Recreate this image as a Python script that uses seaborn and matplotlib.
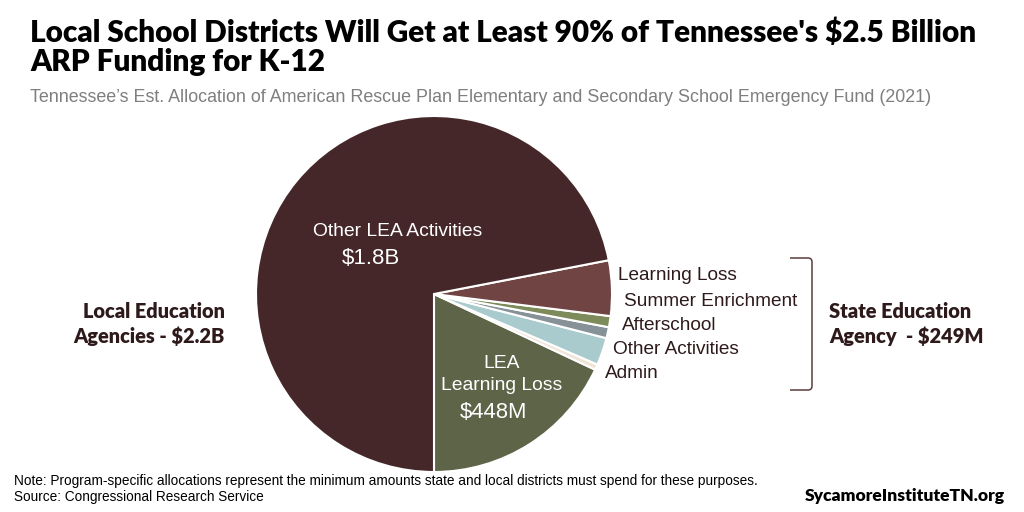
import matplotlib
matplotlib.use("Agg")
import matplotlib.pyplot as plt
import seaborn as sns
from matplotlib.path import Path
from matplotlib.patches import PathPatch

sns.set_theme(style="white")
plt.rcParams['font.family'] = ['Liberation Sans', 'DejaVu Sans']

# Data (millions of dollars), counterclockwise from bottom
categories = ["LEA Learning Loss", "Admin", "Other Activities", "Afterschool",
              "Summer Enrichment", "Learning Loss", "Other LEA Activities"]
values = [448, 12.5, 62, 25, 25, 125, 1790]
colors = ["#5E6448", "#F0E4D6", "#AACBCD", "#879298", "#7D8A5A", "#6F4442", "#45272A"]

W, H = 1024, 512
fig = plt.figure(figsize=(W / 100, H / 100), dpi=100)
fig.patch.set_facecolor("white")

cx, cy, r = 434, 294, 178
ax = fig.add_axes([(cx - r) / W, (H - cy - r) / H, 2 * r / W, 2 * r / H])
ax.pie(values, colors=colors, startangle=-90, counterclock=True, radius=1,
       wedgeprops=dict(edgecolor="white", linewidth=1.5))
ax.set_xlim(-1, 1)
ax.set_ylim(-1, 1)
ax.set_aspect("equal")
ax.axis("off")

def px(x, y):
    return x / W, 1 - y / H

dark = "#2E1A1B"
bold_fam = ["Lato", "DejaVu Sans"]

# Title
fig.text(*px(30, 33), "Local School Districts Will Get at Least 90% of Tennessee's $2.5 Billion",
         fontsize=21.4, fontweight="heavy", family=bold_fam, color="black", va="center")
fig.text(*px(30, 62), "ARP Funding for K-12",
         fontsize=21.4, fontweight="heavy", family=bold_fam, color="black", va="center")
fig.text(*px(30, 97), "Tennessee\u2019s Est. Allocation of American Rescue Plan Elementary and Secondary School Emergency Fund (2021)",
         fontsize=12.9, color="#7F7F7F", va="center")

# In-pie labels
fig.text(*px(398, 232), "Other LEA Activities", fontsize=13.9, color="white", ha="center", va="center")
fig.text(*px(371, 259), "$1.8B", fontsize=16, color="white", ha="center", va="center")
fig.text(*px(502, 363), "LEA", fontsize=13.9, color="white", ha="center", va="center")
fig.text(*px(502, 386), "Learning Loss", fontsize=13.9, color="white", ha="center", va="center")
fig.text(*px(494, 412), "$448M", fontsize=15.8, color="white", ha="center", va="center")

# Right labels
for lab, x, y in [("Learning Loss", 618, 276), ("Summer Enrichment", 624, 301),
                  ("Afterschool", 622, 325), ("Other Activities", 613, 349), ("Admin", 605, 374)]:
    fig.text(*px(x, y), lab, fontsize=13.7, color=dark, ha="left", va="center")

# Bracket
codes = [Path.MOVETO, Path.LINETO, Path.CURVE3, Path.CURVE3, Path.LINETO,
         Path.CURVE3, Path.CURVE3, Path.LINETO]
verts = [px(790, 258), px(808, 258), px(812, 258), px(812, 262), px(812, 386),
         px(812, 390), px(808, 390), px(790, 390)]
fig.add_artist(PathPatch(Path(verts, codes), transform=fig.transFigure,
                         fill=False, edgecolor="#5C3B3B", linewidth=1.1))

# Group labels
for txt, x, y, ha in [("State Education", 829, 312, "left"), ("Agency  - $249M", 829, 336, "left"),
                      ("Local Education", 225, 312, "right"), ("Agencies - $2.2B", 225, 336, "right")]:
    fig.text(*px(x, y), txt, fontsize=14.4, fontweight="heavy", family=bold_fam,
             color=dark, va="center", ha=ha)

# Footer
fig.text(*px(14, 481), "Note: Program-specific allocations represent the minimum amounts state and local districts must spend for these purposes.",
         fontsize=9.8, color="black", va="center")
fig.text(*px(14, 497), "Source: Congressional Research Service",
         fontsize=9.8, color="black", va="center")
fig.text(*px(1005, 496), "SycamoreInstituteTN.org", fontsize=12.6, fontweight="heavy",
         family=bold_fam, color="black", va="center", ha="right")

fig.savefig("out.png", dpi=100, facecolor="white")
